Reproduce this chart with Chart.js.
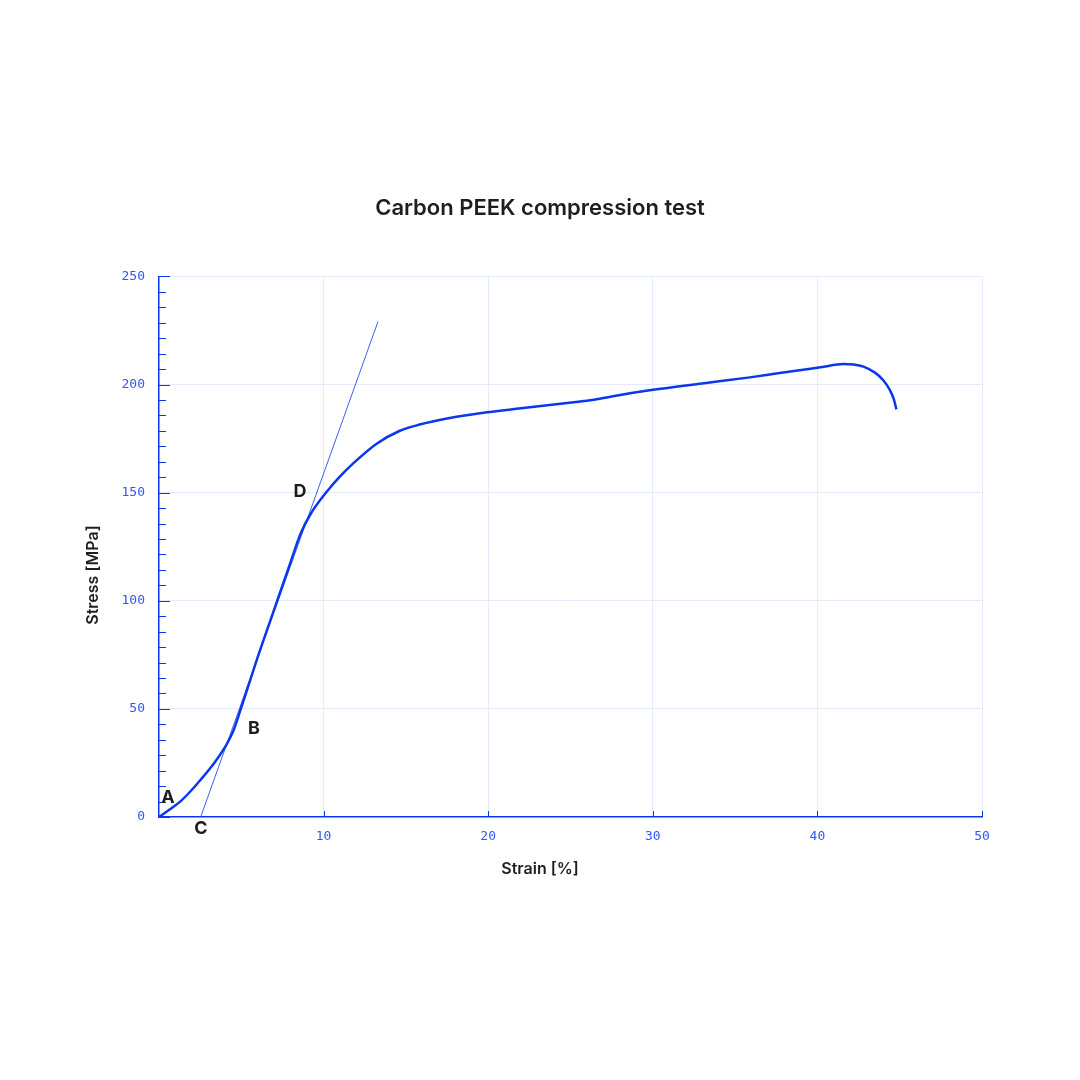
<!DOCTYPE html>
<html>
<head>
<meta charset="utf-8">
<script src="https://cdn.jsdelivr.net/npm/chart.js@4.4.1/dist/chart.umd.min.js"></script>
<style>
  html, body { margin: 0; padding: 0; background: #ffffff; }
  #wrap { width: 1080px; height: 1080px; }
</style>
</head>
<body>
<div id="wrap"><canvas id="stress-chart"></canvas></div>
<script>
// Measured curve: strain [%] vs stress [MPa]
const strain = [0, 0.6, 1.3, 2, 2.5, 3, 3.5, 4.1, 4.5, 4.8, 5.1, 5.4, 6, 7, 8, 8.6, 9.2, 10.2, 11, 11.8, 13.2, 14.6, 15.9, 17.5, 19.5, 22, 25.6, 26.3, 27.5, 29.8, 33, 35.9, 37.7, 40.2, 41.6, 42.2, 42.8, 43.5, 44, 44.4, 44.65, 44.8];
const stress = [0, 3.2, 7.2, 12.6, 17, 21.5, 26.5, 33.5, 39.5, 46, 53, 60, 74, 96, 118, 131, 140, 150.5, 157.5, 163.5, 172.5, 178.5, 181.6, 184.3, 186.7, 189, 192.2, 192.8, 194.5, 197.3, 200.5, 203.3, 205.3, 208, 209.5, 209.3, 208.3, 205.5, 202, 197.5, 193, 188.5];

// Tangent (modulus) line from C through D
const tangentStrain = [2.53, 13.3];
const tangentStress = [0, 229];

// Point labels
const markerText = ['A', 'B', 'C', 'D'];
const markerStrain = [0.55, 5.77, 2.55, 8.57];
const markerStress = [9, 41, -5.5, 150.6];

const xTicks = [0, 10, 20, 30, 40, 50];
const yTicks = [0, 50, 100, 150, 200, 250];

const blue = '#0a37ee';
const tickBlue = '#2f55ff';
const gridColor = '#e6ebfb';
const textDark = '#1e1e1e';

const toPoints = (xs, ys) => xs.map((x, i) => ({ x, y: ys[i] }));

// Inward ticks, axis titles and A/B/C/D labels
const decorations = {
  id: 'decorations',
  afterDraw(c) {
    const { ctx, chartArea } = c;
    const xs = c.scales.x;
    const ys = c.scales.y;
    ctx.save();
    ctx.strokeStyle = blue;
    ctx.lineWidth = 1;
    // y ticks: 7 subdivisions per 50 MPa
    const minorStep = 50 / 7;
    for (let i = 0; i <= 35; i++) {
      const py = Math.round(ys.getPixelForValue(i * minorStep)) + 0.5;
      const len = i % 7 === 0 ? 11 : 7;
      ctx.beginPath();
      ctx.moveTo(chartArea.left, py);
      ctx.lineTo(chartArea.left + len, py);
      ctx.stroke();
    }
    // x ticks
    xTicks.forEach((v) => {
      if (v === 0) return;
      const px = Math.round(xs.getPixelForValue(v)) + 0.5;
      ctx.beginPath();
      ctx.moveTo(px, chartArea.bottom);
      ctx.lineTo(px, chartArea.bottom - 6);
      ctx.stroke();
    });

    ctx.fillStyle = textDark;
    ctx.textAlign = 'center';
    ctx.textBaseline = 'middle';
    // axis titles
    ctx.font = '600 16px Inter, sans-serif';
    ctx.fillText('Strain [%]', c.width / 2, chartArea.bottom + 52);
    ctx.save();
    ctx.translate(chartArea.left - 66, chartArea.bottom - 242);
    ctx.rotate(-Math.PI / 2);
    ctx.fillText('Stress [MPa]', 0, 0);
    ctx.restore();
    // point labels
    ctx.font = '700 18px Inter, sans-serif';
    markerText.forEach((t, i) => {
      ctx.fillText(t, xs.getPixelForValue(markerStrain[i]), ys.getPixelForValue(markerStress[i]));
    });
    ctx.restore();
  },
};

const chart = new Chart(document.getElementById('stress-chart'), {
  type: 'scatter',
  data: {
    datasets: [
      {
        label: 'Stress',
        data: toPoints(strain, stress),
        showLine: true,
        borderColor: blue,
        borderWidth: 2.5,
        pointRadius: 0,
        cubicInterpolationMode: 'monotone',
      },
      {
        label: 'Tangent',
        data: toPoints(tangentStrain, tangentStress),
        showLine: true,
        borderColor: blue,
        borderWidth: 0.8,
        pointRadius: 0,
      },
    ],
  },
  options: {
    responsive: true,
    maintainAspectRatio: false,
    animation: false,
    layout: {
      padding: { top: 190, bottom: 150, left: 60, right: 60 },
    },
    scales: {
      x: {
        type: 'linear',
        min: 0,
        max: 50,
        afterBuildTicks: (scale) => { scale.ticks = xTicks.map((v) => ({ value: v })); },
        afterFit: (scale) => { scale.height = 113; },
        border: { display: true, color: blue, width: 1.5 },
        grid: {
          color: (ctx) => (ctx.tick && ctx.tick.value === 0 ? 'rgba(0,0,0,0)' : gridColor),
          drawTicks: false,
        },
        ticks: {
          color: tickBlue,
          font: { family: '"DejaVu Sans Mono", monospace', size: 13 },
          padding: 12,
          callback: (v) => (v === 0 ? '' : v),
        },
      },
      y: {
        type: 'linear',
        min: 0,
        max: 250,
        afterBuildTicks: (scale) => { scale.ticks = yTicks.map((v) => ({ value: v })); },
        afterFit: (scale) => { scale.width = 99; },
        border: { display: true, color: blue, width: 1.5 },
        grid: {
          color: (ctx) => (ctx.tick && ctx.tick.value === 0 ? 'rgba(0,0,0,0)' : gridColor),
          drawTicks: false,
        },
        ticks: {
          color: tickBlue,
          font: { family: '"DejaVu Sans Mono", monospace', size: 13 },
          padding: 14,
        },
      },
      // empty right axis, keeps the plot where it is and the title centred on the page
      y2: {
        type: 'linear',
        position: 'right',
        min: 0,
        max: 250,
        afterFit: (scale) => { scale.width = 38; },
        border: { display: false },
        grid: { display: false },
        ticks: { display: false },
      },
    },
    plugins: {
      legend: { display: false },
      tooltip: { enabled: false },
      title: {
        display: true,
        text: 'Carbon PEEK compression test',
        color: textDark,
        font: { family: 'Inter, sans-serif', size: 22, weight: '600' },
        padding: { top: 5, bottom: 55 },
      },
    },
  },
  plugins: [decorations],
});
</script>
</body>
</html>
